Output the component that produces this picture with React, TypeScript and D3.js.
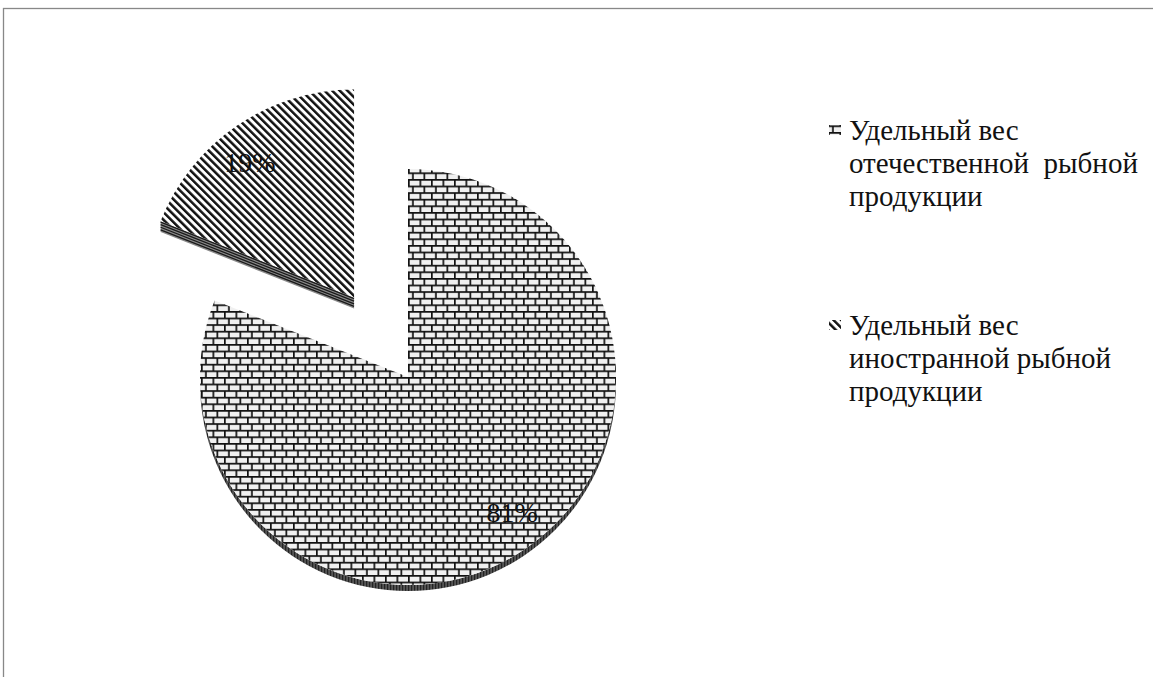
import React from "react";
import * as d3 from "d3";

// shares of fish products (domestic / foreign)
const shares = [81, 19];
const pctLabels = ["81%", "19%"];
const legendLines = [
  ["Удельный вес", "отечественной  рыбной", "продукции"],
  ["Удельный вес", "иностранной рыбной", "продукции"],
];
const patterns = ["brick", "stripe"];
const explodedIndex = 1;

const W = 1153;
const H = 677;
const cx = 408; // pie centre
const cy = 377;
const R = 208;
const explode = 96;
const rimDepth = 6;
const sideDepth = 11;
const font = "Liberation Serif";

const dir = (a: number) => [Math.sin(a), -Math.cos(a)];

const App = () => {
  const pie = d3.pie<number>().sort(null).startAngle(0).endAngle(2 * Math.PI);
  const arcs = pie(shares);
  const arcGen = d3.arc<d3.PieArcDatum<number>>().innerRadius(0).outerRadius(R);

  const slices = arcs.map((a, i) => {
    const mid = (a.startAngle + a.endAngle) / 2;
    const [ux, uy] = dir(mid);
    const off = i === explodedIndex ? explode : 0;
    const ox = cx + ux * off;
    const oy = cy + uy * off;

    // outer rim visible only on the lower half (pie angle 90..270 deg)
    const s = Math.max(a.startAngle, Math.PI / 2);
    const e = Math.min(a.endAngle, (3 * Math.PI) / 2);
    let rim: string | null = null;
    if (e > s) {
      const p = d3.path();
      const [sx, sy] = dir(s);
      p.moveTo(sx * R, sy * R);
      p.arc(0, 0, R, s - Math.PI / 2, e - Math.PI / 2, false);
      const [ex, ey] = dir(e);
      p.lineTo(ex * R, ey * R + rimDepth);
      p.arc(0, rimDepth, R, e - Math.PI / 2, s - Math.PI / 2, true);
      p.closePath();
      rim = p.toString();
    }

    // radial side faces that face the viewer
    const faces: number[][][] = [];
    if (Math.sin(a.startAngle) < -0.01) {
      const [px, py] = dir(a.startAngle);
      faces.push([
        [0, 0],
        [px * R, py * R],
      ]);
    }
    if (Math.sin(a.endAngle) > 0.01) {
      const [px, py] = dir(a.endAngle);
      faces.push([
        [0, 0],
        [px * R, py * R],
      ]);
    }

    // label a bit off the bisector, as the 3D view skews it
    const la = mid - 0.06;
    const [vx, vy] = dir(la);
    const lr = R * 0.82;
    return { a, i, ox, oy, rim, faces, lx: vx * lr, ly: vy * lr };
  });

  return (
    <svg
      width={W}
      height={H}
      style={{ position: "absolute", left: 0, top: 0, background: "#fff" }}
    >
      <defs>
        <pattern id="brick" patternUnits="userSpaceOnUse" width={11.5} height={13.2}>
          <rect width={11.5} height={13.2} fill="#111" />
          <rect x={1.7} y={1.7} width={9.8} height={4.9} fill="#f0f0f0" />
          <rect x={0} y={8.3} width={4.05} height={4.9} fill="#f0f0f0" />
          <rect x={5.75} y={8.3} width={5.75} height={4.9} fill="#f0f0f0" />
        </pattern>
        <pattern
          id="stripe"
          patternUnits="userSpaceOnUse"
          width={5.4}
          height={5.4}
          patternTransform="rotate(-45)"
        >
          <rect width={5.4} height={5.4} fill="#fff" />
          <rect width={2.5} height={5.4} fill="#111" />
        </pattern>
        <pattern id="rim" patternUnits="userSpaceOnUse" width={3} height={3}>
          <rect width={3} height={3} fill="#555" />
          <rect width={1.2} height={3} fill="#222" />
        </pattern>
      </defs>

      {/* frame */}
      <rect x={3.5} y={8.5} width={W + 10} height={H + 10} fill="none" stroke="#888" strokeWidth={1.3} />

      {slices.map((sl) => (
        <g key={"s" + sl.i} transform={`translate(${sl.ox},${sl.oy})`}>
          {sl.rim && <path d={sl.rim} fill="url(#rim)" />}
          {sl.faces.map((f, k) => {
            const [p0, p1] = f;
            const poly = [p0, p1, [p1[0], p1[1] + sideDepth], [p0[0], p0[1] + sideDepth]];
            const steps = d3.range(1, sideDepth, 2.6);
            return (
              <g key={k}>
                <polygon points={poly.map((p) => p.join(",")).join(" ")} fill="#8a8a8a" />
                {steps.map((t) => (
                  <line
                    key={t}
                    x1={p0[0]}
                    y1={p0[1] + t}
                    x2={p1[0]}
                    y2={p1[1] + t}
                    stroke="#1a1a1a"
                    strokeWidth={1.3}
                  />
                ))}
              </g>
            );
          })}
          <path d={arcGen(sl.a) || ""} fill={`url(#${patterns[sl.i]})`} />
        </g>
      ))}

      {slices.map((sl) => (
        <text
          key={"l" + sl.i}
          x={sl.ox + sl.lx}
          y={sl.oy + sl.ly}
          dy="0.35em"
          textAnchor="middle"
          fontFamily={font}
          fontSize={28}
          fill="#111"
        >
          {pctLabels[sl.i]}
        </text>
      ))}

      {/* legend */}
      {legendLines.map((lines, i) => {
        const y0 = 140 + i * 195;
        return (
          <g key={"g" + i}>
            <rect x={829} y={y0 - 15} width={12} height={10} fill={`url(#${patterns[i]})`} />
            {lines.map((t, j) => (
              <text
                key={j}
                x={849}
                y={y0 + j * 33}
                fill="#111"
                fontFamily={font}
                fontSize={29}
                style={{ whiteSpace: "pre" }}
              >
                {t}
              </text>
            ))}
          </g>
        );
      })}
    </svg>
  );
};

export default App;
